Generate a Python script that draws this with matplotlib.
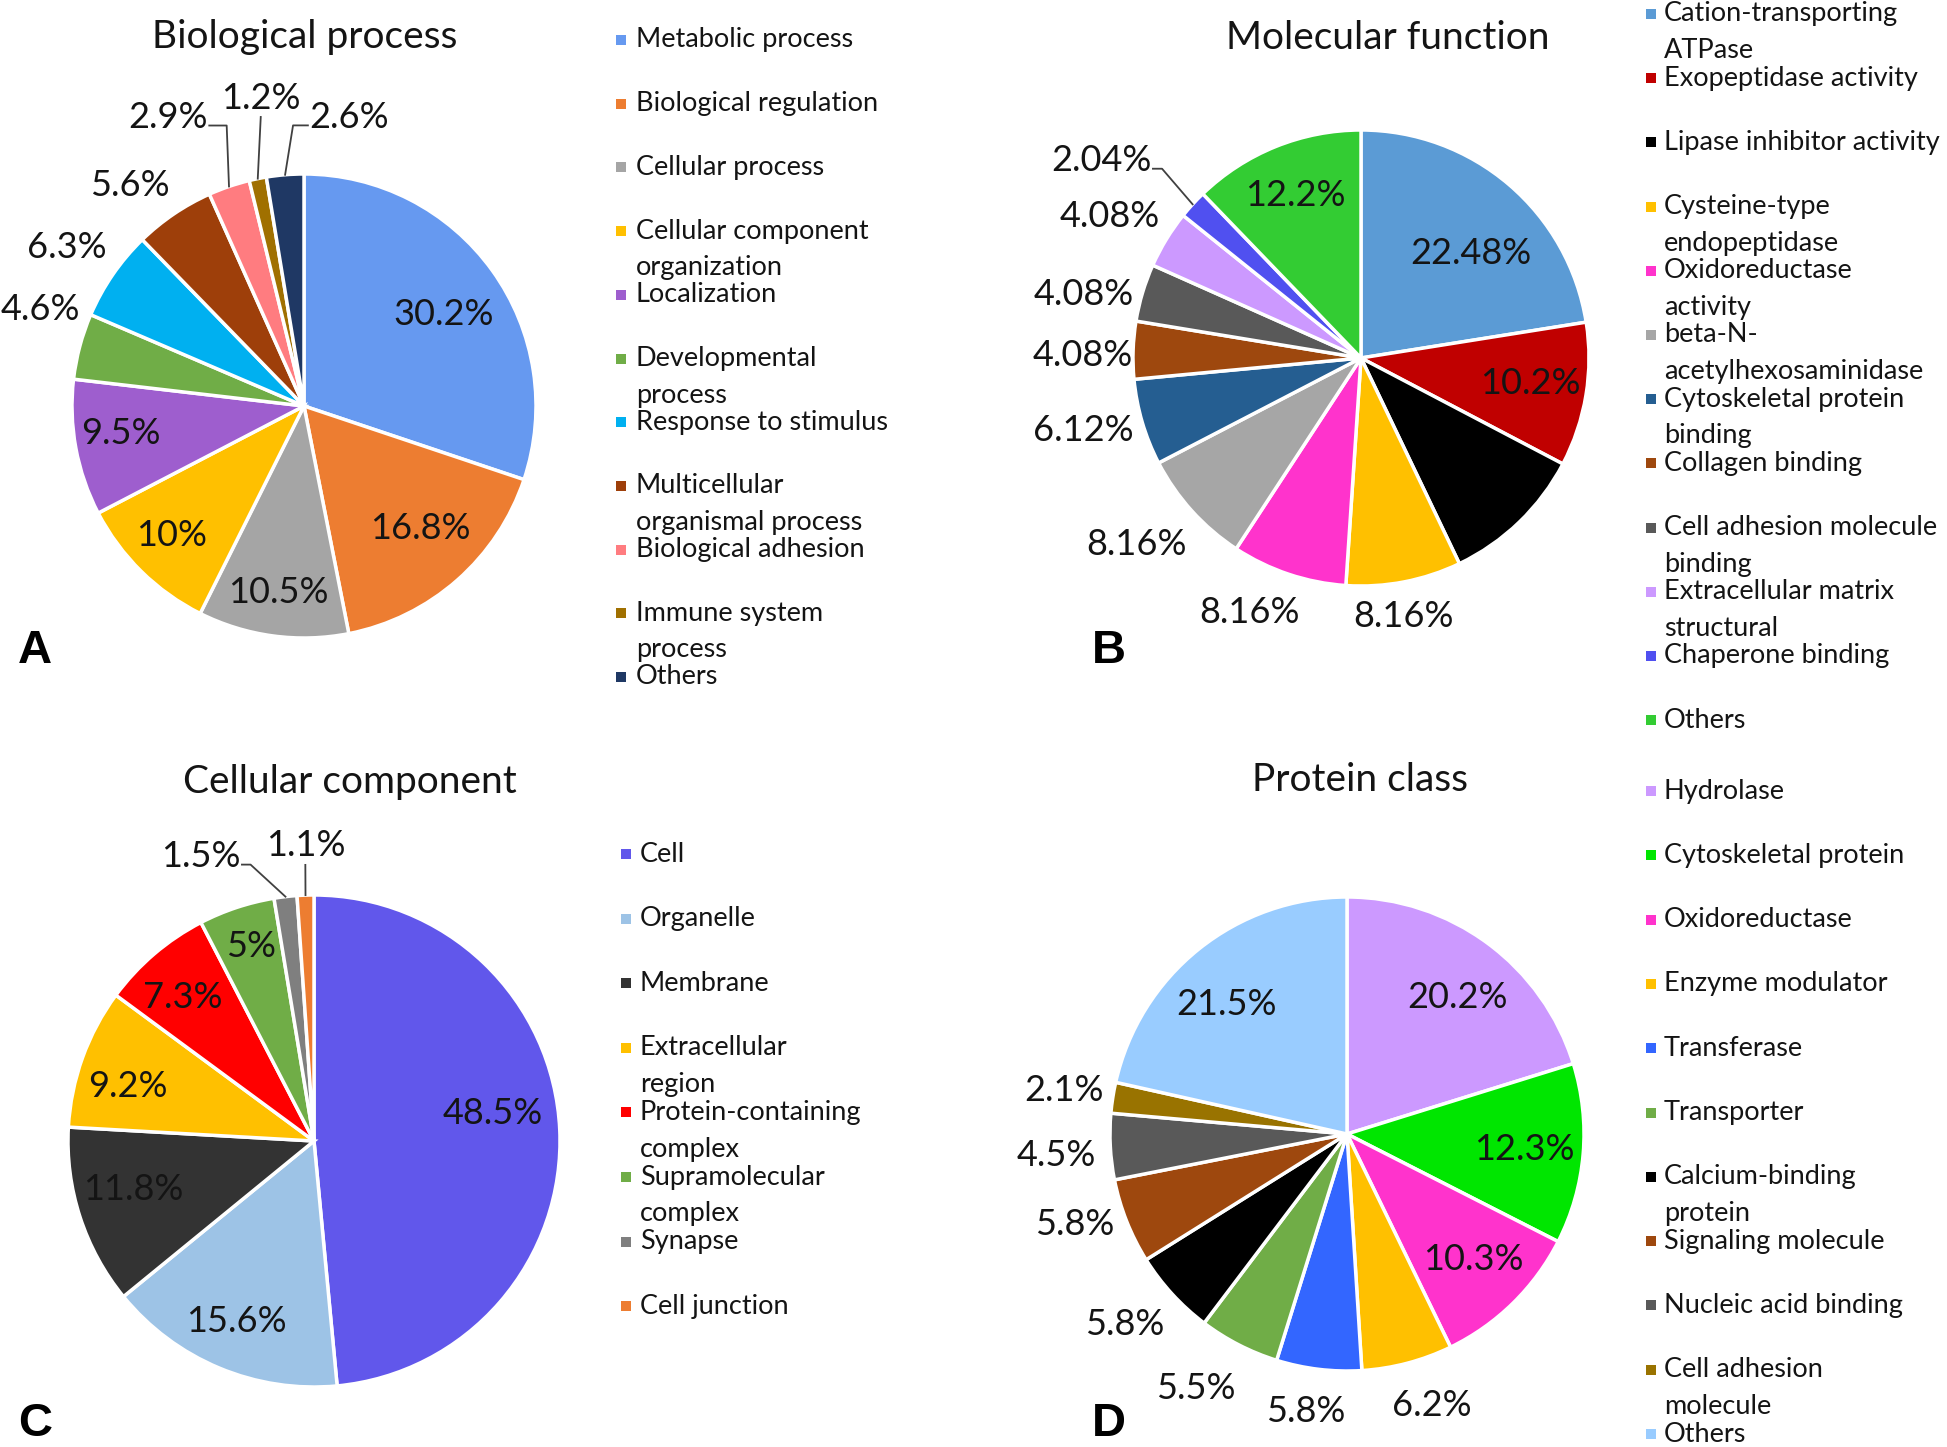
import matplotlib
matplotlib.use('Agg')
import matplotlib.pyplot as plt
from matplotlib.patches import Rectangle
import numpy as np

plt.rcParams['font.family'] = ['Lato', 'DejaVu Sans']

W, H = 1947, 1447

# ---------------- data ----------------
bp_title = 'Biological process'
bp_labels = ['Metabolic process', 'Biological regulation', 'Cellular process',
             'Cellular component\norganization', 'Localization', 'Developmental\nprocess',
             'Response to stimulus', 'Multicellular\norganismal process', 'Biological adhesion',
             'Immune system\nprocess', 'Others']
bp_values = [30.2, 16.8, 10.5, 10, 9.5, 4.6, 6.3, 5.6, 2.9, 1.2, 2.6]
bp_colors = ['#6699F0', '#ED7D31', '#A5A5A5', '#FFC000', '#9E5ECE', '#70AD47',
             '#00B0F0', '#9E3F0A', '#FF7C80', '#A07000', '#1F3864']

mf_title = 'Molecular function'
mf_labels = ['Cation-transporting\nATPase', 'Exopeptidase activity', 'Lipase inhibitor activity',
             'Cysteine-type\nendopeptidase', 'Oxidoreductase\nactivity', 'beta-N-\nacetylhexosaminidase',
             'Cytoskeletal protein\nbinding', 'Collagen binding', 'Cell adhesion molecule\nbinding',
             'Extracellular matrix\nstructural', 'Chaperone binding', 'Others']
mf_values = [22.48, 10.2, 10.2, 8.16, 8.16, 8.16, 6.12, 4.08, 4.08, 4.08, 2.04, 12.2]
mf_show = [True, True, False, True, True, True, True, True, True, True, True, True]
mf_colors = ['#5B9BD5', '#C00000', '#000000', '#FFC000', '#FF33CC', '#A6A6A6',
             '#255E91', '#9E480E', '#595959', '#CC99FF', '#5050F0', '#33CC33']

cc_title = 'Cellular component'
cc_labels = ['Cell', 'Organelle', 'Membrane', 'Extracellular\nregion', 'Protein-containing\ncomplex',
             'Supramolecular\ncomplex', 'Synapse', 'Cell junction']
cc_values = [48.5, 15.6, 11.8, 9.2, 7.3, 5, 1.5, 1.1]
cc_colors = ['#6157EB', '#9DC3E6', '#333333', '#FFC000', '#FF0000', '#70AD47', '#7F7F7F', '#ED7D31']

pc_title = 'Protein class'
pc_labels = ['Hydrolase', 'Cytoskeletal protein', 'Oxidoreductase', 'Enzyme modulator', 'Transferase',
             'Transporter', 'Calcium-binding\nprotein', 'Signaling molecule', 'Nucleic acid binding',
             'Cell adhesion\nmolecule', 'Others']
pc_values = [20.2, 12.3, 10.3, 6.2, 5.8, 5.5, 5.8, 5.8, 4.5, 2.1, 21.5]
pc_colors = ['#CC99FF', '#00E600', '#FF33CC', '#FFC000', '#3366FF', '#70AD47', '#000000',
             '#9E480E', '#595959', '#997300', '#99CCFF']

# ---------------- label placement styles (radius factor, angle shift, leader) ----------------
bp_specs = [(.72, -2.5, None), (.73, 2.2, None), (.81, 0, None), (.80, -1.2, None), (.80, -1.9, None),
            (1.21, -5.3, None), (1.23, .7, None), (1.21, 4.2, None),
            (1.375, 6.3, ('right', .075)), (1.34, -3.5, ('below', 0)), (1.26, -13.5, ('left', .064))]
mf_specs = [(.665, -5.8, None), (.75, .9, None), (.75, 0, None), (1.15, -1.6, None), (1.22, -5.2, None),
            (1.28, -2.4, None), (1.26, -1.7, None), (1.22, 1.4, None), (1.25, 3.7, None),
            (1.265, 2.0, None), (1.43, 5.1, ('right', .04)), (.77, 0, None)]
cc_specs = [(.735, 6, None), (.80, -.5, None), (.76, -3, None), (.79, 3.5, None), (.79, 1.9, None),
            (.83, -.3, None), (1.245, 15, ('right', .035)), (1.2, -.3, ('below', 0))]
pc_specs = [(.74, -2.6, None), (.75, 0, None), (.75, .8, None), (1.2, 2.5, None), (1.185, -1.6, None),
            (1.25, -3.6, None), (1.235, -1.8, None), (1.21, -3.2, None), (1.23, 1.1, None),
            (1.21, .1, None), (.745, 4.3, None)]

fig = plt.figure(figsize=(W / 100, H / 100), dpi=100)
fig.patch.set_facecolor('white')
renderer = fig.canvas.get_renderer()

PCT_FS = 26
TXT = '#141414'


def draw_pie(cx, cy, R, values, colors, show, specs):
    s = 1.1
    ax = fig.add_axes([(cx - R * s) / W, 1 - (cy + R * s) / H, 2 * s * R / W, 2 * s * R / H])
    wedges, _ = ax.pie(values, colors=colors, startangle=90, counterclock=False,
                       wedgeprops=dict(edgecolor='white', linewidth=2.5))
    ax.set_xlim(-s, s)
    ax.set_ylim(-s, s)
    ax.set_aspect('equal')
    ax.axis('off')
    for w, v, sh, spec in zip(wedges, values, show, specs):
        if not sh:
            continue
        mid = np.deg2rad((w.theta1 + w.theta2) / 2)
        rf, dth, leader = spec
        a = mid + np.deg2rad(dth)
        x, y = rf * np.cos(a), rf * np.sin(a)
        t = ax.text(x, y, f'{v:g}%', ha='center', va='center', fontsize=PCT_FS, color=TXT)
        if leader is not None:
            side, stub = leader
            bb = t.get_window_extent(renderer).transformed(ax.transData.inverted())
            ex, ey = np.cos(mid), np.sin(mid)
            if side == 'below':
                pts = [(x, bb.y0 - 0.01), (ex, ey)]
            elif side == 'right':
                yy = bb.y0 + 0.25 * bb.height
                pts = [(bb.x1 + 0.005, yy), (bb.x1 + 0.005 + stub, yy), (ex, ey)]
            else:
                yy = bb.y0 + 0.25 * bb.height
                pts = [(bb.x0 - 0.005, yy), (bb.x0 - 0.005 - stub, yy), (ex, ey)]
            px, py = zip(*pts)
            ax.plot(px, py, color='#404040', lw=1.3, clip_on=False)
    return ax


draw_pie(304, 406, 232, bp_values, bp_colors, [True] * len(bp_values), bp_specs)
draw_pie(1361, 358, 228, mf_values, mf_colors, mf_show, mf_specs)
draw_pie(314, 1141, 246, cc_values, cc_colors, [True] * len(cc_values), cc_specs)
draw_pie(1347, 1134, 237, pc_values, pc_colors, [True] * len(pc_values), pc_specs)

# overlay in pixel coordinates for titles, legends and panel letters
ov = fig.add_axes([0, 0, 1, 1])
ov.set_xlim(0, W)
ov.set_ylim(H, 0)
ov.axis('off')
ov.patch.set_alpha(0)

TITLE_FS = 28
ov.text(305, 37, bp_title, ha='center', va='center', fontsize=TITLE_FS, color=TXT)
ov.text(1388, 38, mf_title, ha='center', va='center', fontsize=TITLE_FS, color=TXT)
ov.text(350, 782, cc_title, ha='center', va='center', fontsize=TITLE_FS, color=TXT)
ov.text(1360, 780, pc_title, ha='center', va='center', fontsize=TITLE_FS, color=TXT)

LEG_FS = 19.5
LINE = 36.6
SQ = 10


def legend(mx, tx, y0, dy, labels, colors):
    for i, (lab, col) in enumerate(zip(labels, colors)):
        y = y0 + i * dy
        ov.add_patch(Rectangle((mx - SQ / 2, y - SQ / 2), SQ, SQ, color=col, lw=0))
        for k, line in enumerate(lab.split('\n')):
            ov.text(tx, y + k * LINE, line, ha='left', va='center', fontsize=LEG_FS, color=TXT)


legend(621, 636, 40, 63.7, bp_labels, bp_colors)
legend(1651, 1664, 14, 64.2, mf_labels, mf_colors)
legend(626, 640, 854, 64.6, cc_labels, cc_colors)
legend(1651, 1664, 791, 64.3, pc_labels, pc_colors)

for letter, (x, y) in zip('ABCD', [(35, 651), (1109, 651), (35, 1424), (1109, 1424)]):
    ov.text(x, y, letter, ha='center', va='center', fontsize=34, fontweight='bold',
            family=['Liberation Sans', 'DejaVu Sans'], color='black')

fig.savefig('out.png', dpi=100, facecolor='white')
